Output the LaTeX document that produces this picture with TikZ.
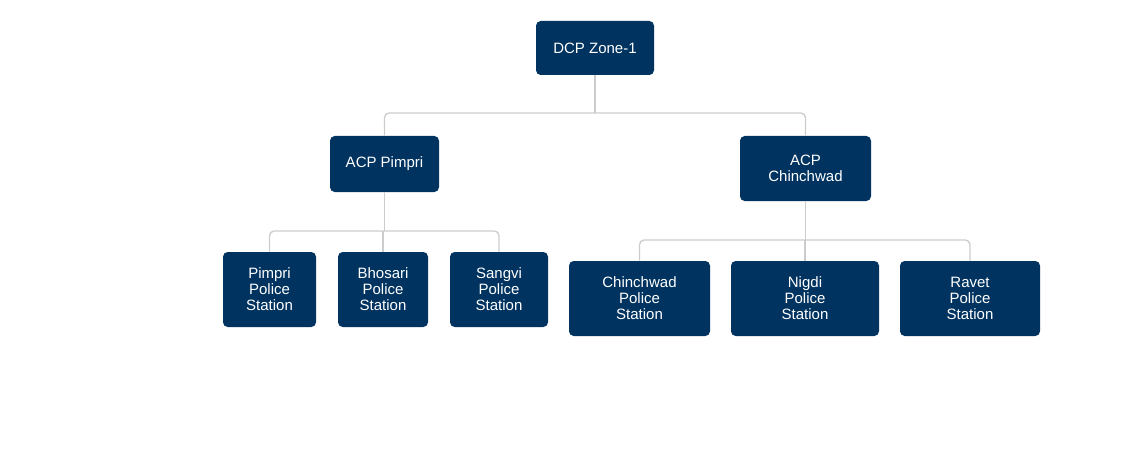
\documentclass[tikz,border=0pt]{standalone}
\usepackage{fontspec}
\setmainfont{Liberation Sans}
\definecolor{boxnavy}{RGB}{0,51,95}
\definecolor{linkgray}{RGB}{204,204,204}
\begin{document}
\begin{tikzpicture}[
    x=0.75pt,
    y=-0.75pt,
    office/.style={
        rectangle,
        fill=boxnavy,
        draw=none,
        rounded corners=3.5pt,
        text=white,
        align=center,
        inner sep=0pt,
        font=\fontsize{11.25}{12}\selectfont
    },
    acp/.style={
        office
    },
    station/.style={
        office,
        minimum height=56.25pt
    },
    link/.style={
        draw=linkgray,
        line width=1pt,
        rounded corners=3.5pt
    }
]

\useasboundingbox (0,0) rectangle (1145,456);

% --- DCP (top) ---
\node[office, minimum width=88.5pt, minimum height=40.5pt] (dcp) at (595,48) {DCP Zone-1};

% --- ACP level ---
\node[acp, minimum width=81.75pt, minimum height=42pt] (acpPimpri) at (384.5,164) {ACP Pimpri};
\node[acp, minimum width=98.25pt, minimum height=48.75pt] (acpChinchwad) at (805.5,168.5) {ACP\\Chinchwad};

% --- Police stations under ACP Pimpri ---
\node[station, minimum width=69.75pt] (psPimpri) at (269.5,289.5) {Pimpri\\Police\\Station};
\node[station, minimum width=67.5pt] (psBhosari) at (383,289.5) {Bhosari\\Police\\Station};
\node[station, minimum width=73.5pt] (psSangvi) at (499,289.5) {Sangvi\\Police\\Station};

% --- Police stations under ACP Chinchwad ---
\node[station, minimum width=105.75pt] (psChinchwad) at (639.5,298.5) {Chinchwad\\Police\\Station};
\node[station, minimum width=111pt] (psNigdi) at (805,298.5) {Nigdi\\Police\\Station};
\node[station, minimum width=105pt] (psRavet) at (970,298.5) {Ravet\\Police\\Station};

% --- Connectors ---
\coordinate (barTop) at (0,113);
\coordinate (barPimpri) at (0,231);
\coordinate (barChinchwad) at (0,240);

\draw[link] (dcp.south) -- (dcp.south |- barTop);
\draw[link] (acpPimpri.north) -- (acpPimpri.north |- barTop) -- (acpChinchwad.north |- barTop) -- (acpChinchwad.north);

\draw[link] (acpPimpri.south) -- (acpPimpri.south |- barPimpri);
\draw[link] (psPimpri.north) -- (psPimpri.north |- barPimpri) -- (psSangvi.north |- barPimpri) -- (psSangvi.north);
\draw[link] (psBhosari.north) -- (psBhosari.north |- barPimpri);

\draw[link] (acpChinchwad.south) -- (acpChinchwad.south |- barChinchwad);
\draw[link] (psChinchwad.north) -- (psChinchwad.north |- barChinchwad) -- (psRavet.north |- barChinchwad) -- (psRavet.north);
\draw[link] (psNigdi.north) -- (psNigdi.north |- barChinchwad);

\end{tikzpicture}
\end{document}
